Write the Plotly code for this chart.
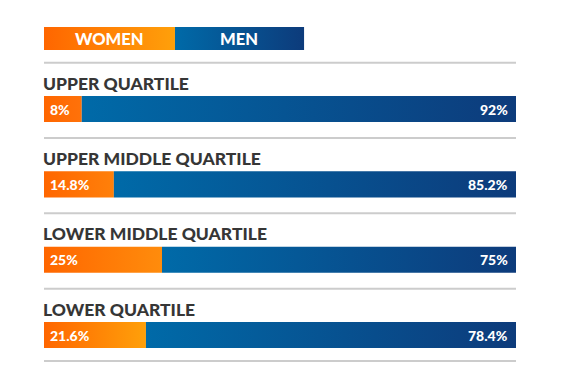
import plotly.graph_objects as go

categories = ["UPPER QUARTILE", "UPPER MIDDLE QUARTILE", "LOWER MIDDLE QUARTILE", "LOWER QUARTILE"]
women = [8, 14.8, 25, 21.6]
men = [92, 85.2, 75, 78.4]
women_labels = ["8%", "14.8%", "25%", "21.6%"]
men_labels = ["92%", "85.2%", "75%", "78.4%"]
legend_names = ["WOMEN", "MEN"]

# style
women_end = ["#ff720a", "#ff800a", "#ff8c0c", "#ffa00a"]
ORANGE0 = "#ff6600"
BLUE0 = "#006aa8"
BLUE1 = "#0d3b7b"
FONT = "Lato"
H = 0.173  # bar half height (y units)

fig = go.Figure()

def rect(x0, x1, yc, h, c0, c1):
    fig.add_trace(go.Scatter(
        x=[x0, x1, x1, x0, x0], y=[yc - h, yc - h, yc + h, yc + h, yc - h],
        mode="lines", line=dict(width=0), fill="toself",
        fillgradient=dict(type="horizontal", colorscale=[[0, c0], [1, c1]]),
        hoverinfo="skip", showlegend=False))

annotations = []
shapes = []
for i, cat in enumerate(categories):
    w = women[i]
    m = men[i]
    rect(0, w, i, H, ORANGE0, women_end[i])
    rect(w, w + m, i, H, BLUE0, BLUE1)
    annotations.append(dict(x=0, y=i, xref="x", yref="y", text=women_labels[i], showarrow=False,
                            xanchor="left", xshift=4, font=dict(family=FONT, size=14, color="white", weight=900)))
    annotations.append(dict(x=w + m, y=i, xref="x", yref="y", text=men_labels[i], showarrow=False,
                            xanchor="right", xshift=-6, font=dict(family=FONT, size=14, color="white", weight=900)))
    annotations.append(dict(x=0, y=i - 0.345, xref="x", yref="y", text=cat, showarrow=False,
                            xanchor="left", xshift=-3, font=dict(family=FONT, size=17.5, color="#363636", weight=900)))
    shapes.append(dict(type="line", xref="x", yref="y", x0=0, x1=100, y0=i - 0.615, y1=i - 0.615,
                       line=dict(color="#cccccc", width=2)))
shapes.append(dict(type="line", xref="x", yref="y", x0=0, x1=100, y0=3.345, y1=3.345,
                   line=dict(color="#cccccc", width=2)))

# custom legend
LY = -0.936
LH = 0.153
rect(0, 27.75, LY, LH, ORANGE0, "#ffa00a")
rect(27.75, 55.1, LY, LH, BLUE0, BLUE1)
annotations.append(dict(x=13.875, y=LY, xref="x", yref="y", text=legend_names[0], showarrow=False,
                        font=dict(family=FONT, size=16.5, color="white", weight=900)))
annotations.append(dict(x=41.4, y=LY, xref="x", yref="y", text=legend_names[1], showarrow=False,
                        font=dict(family=FONT, size=16.5, color="white", weight=900)))

fig.update_layout(
    width=567, height=389,
    margin=dict(l=36, r=59, t=0, b=0),
    paper_bgcolor="white", plot_bgcolor="white",
    xaxis=dict(range=[0, 100], visible=False, fixedrange=True),
    yaxis=dict(range=[3.823, -1.341], visible=False, fixedrange=True),
    annotations=annotations, shapes=shapes,
    showlegend=False,
)
fig.write_html("out.html")
